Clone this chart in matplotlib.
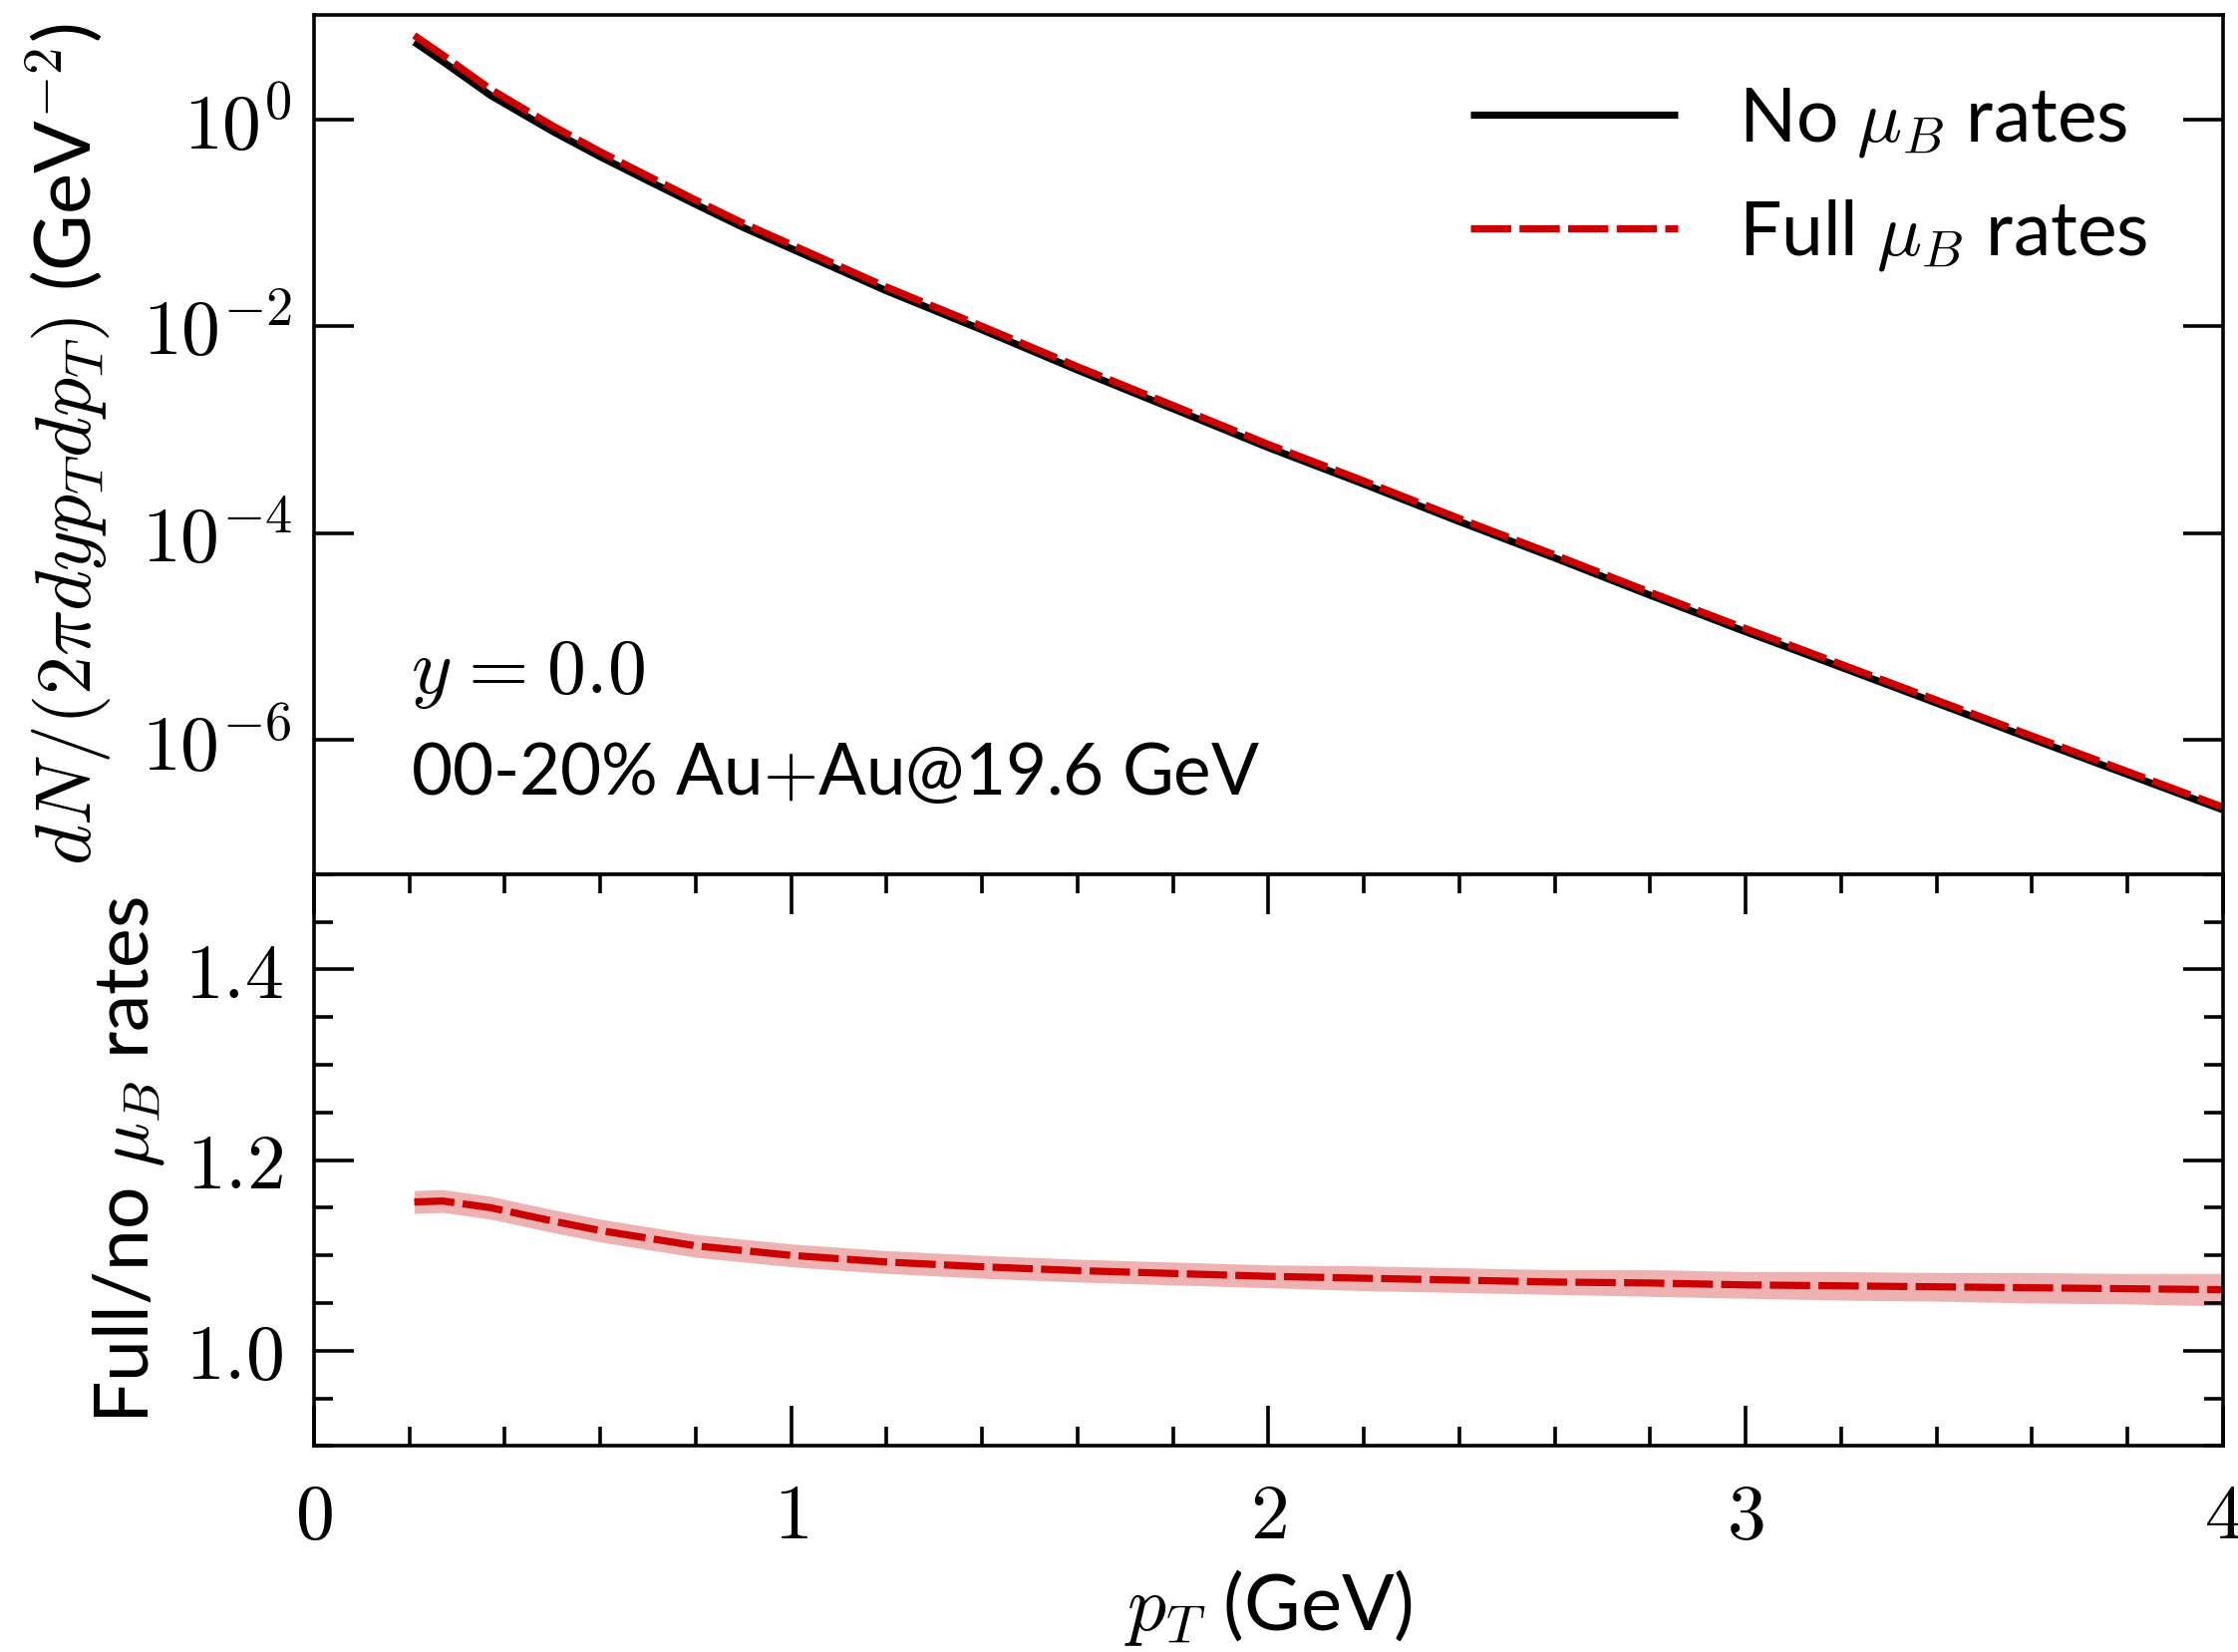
import numpy as np
import matplotlib
matplotlib.use("Agg")
import matplotlib.pyplot as plt
from matplotlib.ticker import FixedLocator, MultipleLocator, NullLocator, FuncFormatter

# ---------------- data ----------------
pt = [0.21, 0.27, 0.37, 0.5, 0.6, 0.7, 0.8, 0.9, 1.0, 1.2, 1.4, 1.6, 1.8,
      2.0, 2.2, 2.4, 2.6, 2.8, 3.0, 3.2, 3.4, 3.6, 3.8, 4.0]
yield_no_muB = [5.58, 3.61, 1.70, 0.763, 0.433, 0.254, 0.150, 0.0896, 0.0561,
                0.0219, 9.20e-3, 3.76e-3, 1.59e-3, 6.69e-4, 2.97e-4, 1.29e-4,
                5.74e-5, 2.50e-5, 1.11e-5, 5.04e-6, 2.27e-6, 1.02e-6, 4.64e-7, 2.11e-7]
yield_full_muB = [6.46, 4.17, 1.95, 0.863, 0.484, 0.282, 0.165, 0.0984, 0.0614,
                  0.0238, 9.95e-3, 4.05e-3, 1.71e-3, 7.18e-4, 3.18e-4, 1.38e-4,
                  6.14e-5, 2.67e-5, 1.19e-5, 5.38e-6, 2.42e-6, 1.09e-6, 4.94e-7, 2.24e-7]
ratio = [1.156, 1.157, 1.150, 1.136, 1.126, 1.118, 1.110, 1.105, 1.100, 1.093,
         1.088, 1.084, 1.081, 1.078, 1.076, 1.074, 1.072, 1.071, 1.069, 1.068,
         1.067, 1.066, 1.065, 1.064]
ratio_err = [0.012, 0.012, 0.012, 0.012, 0.012, 0.012, 0.012, 0.012, 0.012, 0.012,
             0.012, 0.012, 0.012, 0.012, 0.013, 0.013, 0.013, 0.014, 0.014, 0.015,
             0.015, 0.016, 0.016, 0.017]

labels = [r"No $\mu_B$ rates", r"Full $\mu_B$ rates"]
text_rap = r"$y\hspace{0.08}=\hspace{0.08}0.0$"
text_sys = r"00-20% Au$+$Au@19.6 GeV"

# ---------------- style ----------------
plt.rcParams["font.family"] = ["Lato", "DejaVu Sans"]
plt.rcParams["mathtext.fontset"] = "cm"
plt.rcParams["axes.linewidth"] = 1.3
FS = 28
RED = "#cc0000"

fig = plt.figure(figsize=(11.225, 8.285), dpi=200)
ax1 = fig.add_axes([0.1403, 0.4709, 0.853, 0.5201])
ax2 = fig.add_axes([0.1403, 0.1247, 0.853, 0.3462], sharex=ax1)

pt_a = np.array(pt)
ax1.plot(pt_a, yield_no_muB, color="black", lw=2.6, label=labels[0], solid_capstyle="butt")
ax1.plot(pt_a, yield_full_muB, color=RED, lw=2.6, ls=(0, (5.6, 1.15)), label=labels[1])
ax1.set_yscale("log")
ax1.set_ylim(5.05e-8, 10.2)
ax1.set_xlim(0, 4)

r = np.array(ratio)
e = np.array(ratio_err)
ax2.fill_between(pt_a, r - e, r + e, color=RED, alpha=0.3, lw=0)
ax2.plot(pt_a, r, color=RED, lw=2.6, ls=(0, (5.6, 1.15)))
ax2.set_ylim(0.9, 1.5)

# ticks top panel
ax1.yaxis.set_major_locator(FixedLocator([1e-6, 1e-4, 1e-2, 1e0]))
ax1.yaxis.set_minor_locator(NullLocator())
ax1.yaxis.set_major_formatter(FuncFormatter(lambda v, p: r"$10^{%d}$" % int(round(np.log10(v)))))
ax1.tick_params(axis="y", which="major", direction="in", left=True, right=True,
                length=14.4, width=1.3, labelsize=FS, pad=8)
ax1.tick_params(axis="x", which="both", bottom=False, top=False, labelbottom=False)

# ticks bottom panel
ax2.xaxis.set_major_locator(MultipleLocator(1))
ax2.xaxis.set_minor_locator(MultipleLocator(0.2))
ax2.xaxis.set_major_formatter(FuncFormatter(lambda v, p: r"$%d$" % int(round(v))))
ax2.yaxis.set_major_locator(FixedLocator([1.0, 1.2, 1.4]))
ax2.yaxis.set_minor_locator(MultipleLocator(0.05))
ax2.yaxis.set_major_formatter(FuncFormatter(lambda v, p: r"$%.1f$" % v))
ax2.tick_params(axis="both", which="major", direction="in", left=True, right=True,
                top=True, bottom=True, length=14.4, width=1.3, labelsize=FS)
ax2.tick_params(axis="both", which="minor", direction="in", left=True, right=True,
                top=True, bottom=True, length=7, width=1.3)
ax2.tick_params(axis="x", which="major", pad=13)
ax2.tick_params(axis="y", which="major", pad=11)

# labels
ax1.set_ylabel(r"$dN/(2\pi dy p_T dp_T)$ (GeV$^{-2}$)", fontsize=FS)
ax1.yaxis.set_label_coords(-0.1046, 0.5)
ax2.set_ylabel(r"Full/no $\mu_B$ rates", fontsize=27)
ax2.yaxis.set_label_coords(-0.0771, 0.5)
ax2.set_xlabel(r"$p_T$ (GeV)", fontsize=FS)
ax2.xaxis.set_label_coords(0.5, -0.212)

ax1.text(0.0509, 0.211, text_rap, transform=ax1.transAxes, fontsize=FS, va="baseline")
ax1.text(0.0509, 0.093, text_sys, transform=ax1.transAxes, fontsize=25.5, va="baseline")

ax1.legend(loc="upper left", bbox_to_anchor=(0.6058, 0.918), frameon=False,
           fontsize=27, handlelength=2.77, handletextpad=0.82, borderpad=0,
           borderaxespad=0, labelspacing=0.5)

fig.savefig("out.png", dpi=200)
